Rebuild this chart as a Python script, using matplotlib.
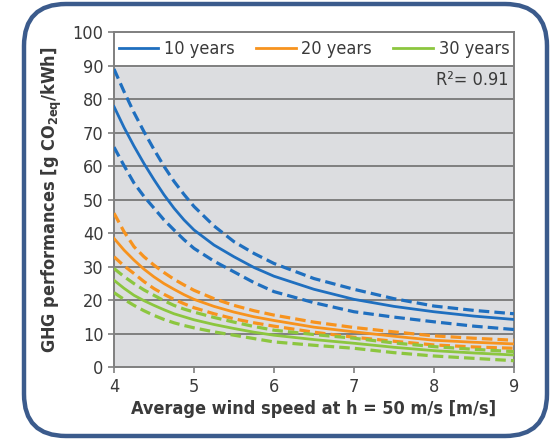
import matplotlib
matplotlib.use('Agg')
import matplotlib.pyplot as plt
from matplotlib import font_manager as fm
from matplotlib.patches import FancyBboxPatch

# pick a narrow/condensed face if one is installed
cond = None
for f in fm.fontManager.ttflist:
    fn = f.fname.lower()
    if ('narrow' in fn or 'condensed' in fn) and f.style == 'normal':
        if cond is None or 'liberation' in fn:
            cond = f
if cond is not None:
    plt.rcParams['font.family'] = [cond.name, 'DejaVu Sans']
    plt.rcParams['font.stretch'] = cond.stretch
    fsize = 13
else:
    plt.rcParams['font.family'] = ['DejaVu Sans']
    fsize = 11

speed = [4, 4.125, 4.25, 4.375, 4.5, 4.625, 4.75, 4.875, 5, 5.25, 5.5, 5.75,
         6, 6.5, 7, 7.5, 8, 8.5, 9]

y10_up = [89, 82.3, 76, 70.3, 65, 60, 55.5, 51.6, 48, 42.2, 37.5, 34,
          31, 26.5, 23.3, 20.5, 18.3, 17, 16]
y10_mid = [77.8, 71.6, 66, 60.8, 56, 51.5, 47.5, 44, 41, 36.5, 33, 29.8,
           27.2, 23.3, 20.3, 18.2, 16.6, 15.3, 14.3]
y10_low = [65.7, 60.2, 55, 51, 47.5, 44, 41, 38.1, 35.5, 31.7, 28.5, 25.3,
           22.6, 19.3, 16.6, 15, 13.6, 12.3, 11.3]

y20_up = [46, 40.5, 36, 33, 30.5, 28.3, 26.3, 24.6, 23, 20.5, 18.5, 16.9,
          15.6, 13.5, 11.9, 10.6, 9.4, 8.7, 8.1]
y20_mid = [38.5, 35, 32, 29.3, 27, 25, 23.3, 21.7, 20.3, 18.2, 16.5, 15.1,
           14, 12, 10.6, 9.3, 8.1, 7.5, 7]
y20_low = [33, 30.3, 28, 25.6, 23.5, 21.8, 20.3, 19, 17.8, 16, 14.5, 13.3,
           12.3, 10.5, 9, 7.8, 6.7, 6.1, 5.7]

y30_up = [29.5, 27.1, 25, 23.1, 21.5, 19.9, 18.5, 17.4, 16.5, 14.9, 13.5, 12.2,
          11.1, 9.8, 8.7, 7.3, 6.2, 5.4, 4.7]
y30_mid = [26, 23.6, 21.5, 19.9, 18.5, 17.2, 16, 15.1, 14.2, 12.8, 11.6, 10.5,
           9.6, 8.3, 7.2, 6, 5, 4.3, 3.7]
y30_low = [22.3, 20.3, 18.5, 16.9, 15.5, 14.3, 13.3, 12.5, 11.8, 10.6, 9.6, 8.6,
           7.6, 6.6, 5.7, 4.4, 3.4, 2.7, 2]

labels = ['10 years', '20 years', '30 years']
colors = ['#1f6fbf', '#f7931e', '#8cc63f']
series = [(y10_up, y10_mid, y10_low), (y20_up, y20_mid, y20_low), (y30_up, y30_mid, y30_low)]

fig = plt.figure(figsize=(5.52, 4.4), dpi=100)

# rounded frame around everything
bg = fig.add_axes([0, 0, 1, 1], zorder=0)
bg.set_xlim(0, 552)
bg.set_ylim(0, 440)
bg.axis('off')
bg.add_patch(FancyBboxPatch((24, 4), 523, 432, boxstyle='round,pad=0,rounding_size=42',
                            fc='white', ec='#3b5b8c', lw=3.2))

ax = fig.add_axes([0.2065, 0.165, 0.7245, 0.762], zorder=1)
ax.set_facecolor('#dcdde0')
ax.axhspan(90, 100, color='white', zorder=0.5)

grid_c = '#7f7f7f'
for yv in range(10, 100, 10):
    ax.axhline(yv, color=grid_c, lw=1.4, zorder=1)

handles = []
for (up, mid, low), c, lab in zip(series, colors, labels):
    ax.plot(speed, up, color=c, lw=2.3, dashes=(3.3, 1.6), zorder=3)
    ax.plot(speed, low, color=c, lw=2.3, dashes=(3.3, 1.6), zorder=3)
    h, = ax.plot(speed, mid, color=c, lw=2.0, zorder=3, label=lab)
    handles.append(h)

ax.set_xlim(4, 9)
ax.set_ylim(0, 100)
ax.set_xticks(range(4, 10))
ax.set_yticks(range(0, 101, 10))
for s in ax.spines.values():
    s.set_color(grid_c)
    s.set_linewidth(1.4)
ax.tick_params(colors=grid_c, labelcolor='#3a3a3a', labelsize=fsize, length=4, width=1.2)

ax.set_xlabel('Average wind speed at h = 50 m/s [m/s]', fontsize=fsize, fontweight='bold',
              color='#3a3a3a', labelpad=3)
ax.set_ylabel('GHG performances [g CO$\\mathregular{_{2eq}}$/kWh]', fontsize=fsize,
              fontweight='bold', color='#3a3a3a', labelpad=6)

ax.legend(handles=handles, loc='center', bbox_to_anchor=(0.5, 0.95), ncol=3, frameon=False,
          fontsize=fsize, handlelength=2.2, columnspacing=1.2, handletextpad=0.3,
          borderaxespad=0, labelcolor='#3a3a3a')
ax.text(8.93, 85.6, 'R\u00b2= 0.91', ha='right', va='center', fontsize=fsize, color='#3a3a3a')

fig.savefig('out.png', dpi=100)
